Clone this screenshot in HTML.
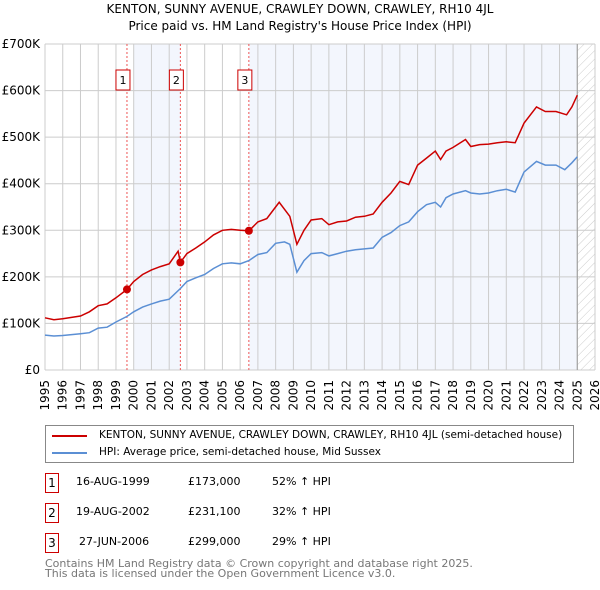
<!DOCTYPE html>
<html><head><meta charset="utf-8">
<style>
body{margin:0;background:#fff;font-family:"DejaVu Sans","Liberation Sans",sans-serif;}
#wrap{position:relative;width:600px;height:590px;overflow:hidden;}
.t{position:absolute;font-size:12px;color:#000;white-space:nowrap;}
.box{position:absolute;border:1px solid #c00;width:12px;height:18px;font-size:12px;text-align:center;line-height:18px;}
</style></head>
<body><div id="wrap">
<svg id="chart" width="600" height="420" style="position:absolute;left:0;top:0">
<defs><pattern id="hatch" width="6" height="6" patternUnits="userSpaceOnUse" patternTransform="rotate(45)"><line x1="0" y1="0" x2="0" y2="6" stroke="#ccc" stroke-width="1"/></pattern></defs>
<text x="300" y="13" text-anchor="middle" font-size="12">KENTON, SUNNY AVENUE, CRAWLEY DOWN, CRAWLEY, RH10 4JL</text>
<text x="300" y="30" text-anchor="middle" font-size="12">Price paid vs. HM Land Registry's House Price Index (HPI)</text>
<g id="g"></g>
</svg>
<div style="position:absolute;left:45px;top:425px;width:527px;height:36px;border:1px solid #888;">
<div style="position:absolute;left:6px;top:9px;width:35px;height:2px;background:#c00"></div>
<div class="t" style="left:53px;top:3px;font-size:10.5px">KENTON, SUNNY AVENUE, CRAWLEY DOWN, CRAWLEY, RH10 4JL (semi-detached house)</div>
<div style="position:absolute;left:6px;top:26px;width:35px;height:2px;background:#5b8fd4"></div>
<div class="t" style="left:53px;top:20px;font-size:10.5px">HPI: Average price, semi-detached house, Mid Sussex</div>
</div>
<div id="tbl"></div>
<div class="t" style="left:45px;top:559px;color:#777;font-size:11px;line-height:10px">Contains HM Land Registry data © Crown copyright and database right 2025.<br>This data is licensed under the Open Government Licence v3.0.</div>
</div>
<script>
const yearTicks=[1995,1996,1997,1998,1999,2000,2001,2002,2003,2004,2005,2006,2007,2008,2009,2010,2011,2012,2013,2014,2015,2016,2017,2018,2019,2020,2021,2022,2023,2024,2025,2026];
const priceTicks=[0,100,200,300,400,500,600,700];
const priceLabels=["£0","£100K","£200K","£300K","£400K","£500K","£600K","£700K"];
const hpiYears=[1995,1995.5,1996,1996.5,1997,1997.5,1998,1998.5,1999,1999.62,2000,2000.5,2001,2001.5,2002,2002.63,2003,2003.5,2004,2004.5,2005,2005.5,2006,2006.49,2007,2007.5,2008,2008.5,2008.8,2009.2,2009.6,2010,2010.6,2011,2011.5,2012,2012.5,2013,2013.5,2014,2014.5,2015,2015.5,2016,2016.5,2017,2017.3,2017.6,2018,2018.7,2019,2019.5,2020,2020.5,2021,2021.5,2022,2022.7,2023.2,2023.8,2024.3,2024.7,2025];
const hpiVals=[75,73,74,76,78,80,90,92,103,115,125,135,142,148,152,175,190,198,205,218,228,230,228,235,248,252,272,275,270,210,235,250,252,245,250,255,258,260,262,285,295,310,318,340,355,360,350,370,378,385,380,378,380,385,388,382,425,448,440,440,430,445,458];
const redYears=[1995,1995.5,1996,1996.5,1997,1997.5,1998,1998.5,1999,1999.62,2000,2000.5,2001,2001.5,2002,2002.5,2002.63,2003,2003.5,2004,2004.5,2005,2005.5,2006,2006.49,2007,2007.5,2008,2008.2,2008.8,2009.2,2009.6,2010,2010.6,2011,2011.5,2012,2012.5,2013,2013.5,2014,2014.5,2015,2015.5,2016,2016.5,2017,2017.3,2017.6,2018,2018.7,2019,2019.5,2020,2020.5,2021,2021.5,2022,2022.7,2023.2,2023.8,2024.4,2024.7,2025];
const redVals=[112,108,110,113,116,125,138,142,155,173,190,205,215,222,228,255,231,250,262,275,290,300,302,300,299,318,325,350,360,330,270,300,322,325,312,318,320,328,330,335,360,380,405,398,440,455,470,452,470,478,495,480,484,485,488,490,488,530,565,555,555,548,565,590];
const sales=[{y:1999.62,v:173,n:"1"},{y:2002.63,v:231.1,n:"2"},{y:2006.49,v:299,n:"3"}];
const rows=[["1","16-AUG-1999","£173,000","52% ↑ HPI"],["2","19-AUG-2002","£231,100","32% ↑ HPI"],["3","27-JUN-2006","£299,000","29% ↑ HPI"]];
const X0=45,X1=595,Y0=370,Y1=44;
const sx=y=>X0+(y-1995)/(2026-1995)*(X1-X0);
const sy=v=>Y0-v/700*(Y0-Y1);
const NS="http://www.w3.org/2000/svg",g=document.getElementById('g');
function mk(t,a){const e=document.createElementNS(NS,t);for(const k in a)e.setAttribute(k,a[k]);g.appendChild(e);return e;}
let e;
e=mk('rect',{x:sx(2000),y:Y1,width:sx(2002.63)-sx(2000),height:Y0-Y1,fill:'#f3f6fd'});

e=mk('rect',{x:sx(2006.49),y:Y1,width:sx(2025)-sx(2006.49),height:Y0-Y1,fill:'#f3f6fd'});

e=mk('rect',{x:sx(2025),y:Y1,width:X1-sx(2025),height:Y0-Y1,fill:'url(#hatch)'});

yearTicks.forEach(y=>{e=mk('line',{x1:sx(y),x2:sx(y),y1:Y1,y2:Y0,stroke:'#ccc'});

e=mk('text',{x:sx(y),y:Y0+6,'font-size':12,'text-anchor':'end',transform:`rotate(-90 ${sx(y)+4} ${Y0+6})`});e.textContent=y;
});
priceTicks.forEach((v,i)=>{e=mk('line',{x1:X0,x2:X1,y1:sy(v),y2:sy(v),stroke:'#ccc'});

e=mk('text',{x:X0-5,y:sy(v)+4,'font-size':12,'text-anchor':'end'});e.textContent=priceLabels[i];
});
e=mk('line',{x1:sx(2025),x2:sx(2025),y1:Y1,y2:Y0,stroke:'#999'});

sales.forEach(s=>{e=mk('line',{x1:sx(s.y),x2:sx(s.y),y1:Y1,y2:Y0,stroke:'#e55','stroke-dasharray':'2,2'});

e=mk('rect',{x:sx(s.y)-11,y:70,width:14,height:20,fill:'#fff',stroke:'#c00'});

e=mk('text',{x:sx(s.y)-4,y:84,'font-size':11,'text-anchor':'middle'});e.textContent=s.n;
});
function path(xs,vs){return xs.map((y,i)=>(i?'L':'M')+sx(y).toFixed(1)+','+sy(vs[i]).toFixed(1)).join('');}
e=mk('path',{d:path(hpiYears,hpiVals),fill:'none',stroke:'#5b8fd4','stroke-width':1.5});

e=mk('path',{d:path(redYears,redVals),fill:'none',stroke:'#c00','stroke-width':1.5});

sales.forEach(s=>{e=mk('circle',{cx:sx(s.y),cy:sy(s.v),r:4,fill:'#c00'});
});
const tbl=document.getElementById('tbl');
rows.forEach((r,i)=>{const top=473+i*30;const d=document.createElement('div');

d.innerHTML=`<div class="box" style="left:45px;top:${top}px">${r[0]}</div><div class="t" style="left:${i==2?79:76}px;top:${top+2}px;font-size:11px">${r[1]}</div><div class="t" style="left:188px;top:${top+2}px;font-size:11px">${r[2]}</div><div class="t" style="left:272px;top:${top+2}px;font-size:11px">${r[3]}</div>`;
tbl.appendChild(d);});
</script>
</body></html>
